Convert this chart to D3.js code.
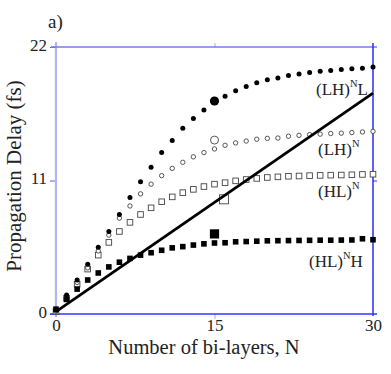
<!DOCTYPE html>
<html>
<head>
<meta charset="utf-8">
<script src="https://cdn.jsdelivr.net/npm/d3@7"></script>
<style>
    body { margin: 0; background: white; }
    svg text { font-family: "Liberation Serif", "DejaVu Serif", "Times New Roman", serif !important; }
</style>
</head>
<body>
<svg width="391" height="374"></svg>
<script>
"use strict";
// number of bi-layers N, one point per N
const bilayers = [0, 1, 2, 3, 4, 5, 6, 7, 8, 9, 10, 11, 12, 13, 14, 15, 16, 17, 18, 19, 20, 21, 22, 23, 24, 25, 26, 27, 28, 29, 30];
// propagation delay in fs
const delayLHL = [0.3, 1.57, 2.8, 4.1, 5.5, 6.8, 8.2, 9.6, 10.9, 12.1, 13.3, 14.3, 15.3, 16.1, 16.8, 17.4, 17.95, 18.4, 18.75, 19.05, 19.3, 19.45, 19.65, 19.77, 19.9, 20.0, 20.07, 20.15, 20.2, 20.25, 20.35];
const delayLH = [0.2, 1.4, 2.6, 3.8, 5.2, 6.5, 7.9, 8.9, 9.9, 10.7, 11.4, 12.0, 12.5, 12.95, 13.3, 13.6, 13.9, 14.1, 14.25, 14.4, 14.47, 14.5, 14.65, 14.72, 14.78, 14.82, 14.87, 14.9, 14.95, 15.0, 15.05];
const delayHL = [0.2, 1.3, 2.45, 3.7, 4.85, 5.9, 6.8, 7.55, 8.2, 8.75, 9.25, 9.65, 10.0, 10.27, 10.5, 10.7, 10.82, 10.97, 11.08, 11.17, 11.25, 11.3, 11.35, 11.37, 11.4, 11.42, 11.44, 11.45, 11.47, 11.5, 11.52];
const delayHLH = [0.4, 1.2, 2.05, 2.8, 3.38, 3.88, 4.27, 4.58, 4.85, 5.05, 5.25, 5.45, 5.55, 5.68, 5.78, 5.85, 5.87, 5.95, 5.97, 6.0, 6.03, 6.04, 6.05, 6.06, 6.07, 6.08, 6.08, 6.09, 6.1, 6.2, 6.12];
// the big single markers (LH)^N L, (LH)^N, (HL)^N, (HL)^N H
const bigN = [15, 15, 15.9, 15];
const bigDelay = [17.55, 14.33, 9.45, 6.6];
// straight reference line
const lineN = [0, 30];
const lineDelay = [0.2, 18.2];

const xTicks = [0, 15, 30];
const yTicks = [0, 11, 22];

const SERIF = "Liberation Serif";

window.addEventListener("load", drawChart);

function drawChart() {
    const svg = d3.select("svg").attr("font-family", SERIF);
    const left = 56, right = 373, top = 47, bottom = 314;

    const x = d3.scaleLinear().domain([0, 30]).range([left, right]);
    const y = d3.scaleLinear().domain([0, 22]).range([bottom, top]);

    // axes: each side has its own blue in the original
    const yAxis = svg.append("g")
        .attr("transform", `translate(${left},0)`)
        .call(d3.axisLeft(y).tickValues(yTicks).tickSize(6).tickSizeOuter(0).tickPadding(3))
        .attr("font-family", SERIF);
    yAxis.select(".domain").remove();
    yAxis.selectAll("line").attr("stroke", "#5a5af0");
    yAxis.selectAll("text").attr("font-size", 17).attr("fill", "#222").attr("dy", "0.2em")
        .attr("font-family", SERIF);

    const xAxis = svg.append("g")
        .attr("transform", `translate(0,${bottom})`)
        .call(d3.axisBottom(x).tickValues(xTicks).tickSize(5).tickSizeOuter(0).tickPadding(0))
        .attr("font-family", SERIF);
    xAxis.select(".domain").remove();
    xAxis.selectAll("line").attr("stroke", "#a8a8f2").attr("opacity", (d, i) => i === 1 ? 1 : 0);
    xAxis.selectAll("text").attr("font-size", 17).attr("fill", "#222")
        .attr("font-family", SERIF);

    const topAxis = svg.append("g")
        .attr("transform", `translate(0,${top})`)
        .call(d3.axisTop(x).tickValues([15]).tickSize(4).tickSizeOuter(0).tickFormat(""));
    topAxis.select(".domain").remove();
    topAxis.selectAll("line").attr("stroke", "#a8a8f2");

    const rightAxis = svg.append("g")
        .attr("transform", `translate(${right},0)`)
        .call(d3.axisRight(y).tickValues([11]).tickSize(4).tickSizeOuter(0).tickFormat(""));
    rightAxis.select(".domain").remove();
    rightAxis.selectAll("line").attr("stroke", "#2a2aff");

    // frame lines
    svg.append("line").attr("x1", left).attr("x2", left).attr("y1", top - 5).attr("y2", bottom + 3)
        .attr("stroke", "#b4b4f4").attr("stroke-width", 2.2);
    svg.append("line").attr("x1", left - 5).attr("x2", right + 4).attr("y1", top).attr("y2", top)
        .attr("stroke", "#7878e8").attr("stroke-width", 1.4);
    svg.append("line").attr("x1", right).attr("x2", right).attr("y1", top - 4).attr("y2", bottom + 2)
        .attr("stroke", "#2a2aff").attr("stroke-width", 1.5);
    svg.append("line").attr("x1", left - 6).attr("x2", right + 4).attr("y1", bottom).attr("y2", bottom)
        .attr("stroke", "#3434ff").attr("stroke-width", 1.5);

    const plot = svg.append("g");

    // open squares (HL)^N
    plot.selectAll("rect.hl")
        .data(delayHL)
        .join("rect")
            .attr("class", "hl")
            .attr("x", (d, i) => x(bilayers[i]) - 2.8)
            .attr("y", d => y(d) - 2.8)
            .attr("width", 5.6)
            .attr("height", 5.6)
            .attr("fill", "white")
            .attr("stroke", "#444")
            .attr("stroke-width", 0.9);

    // open circles (LH)^N
    plot.selectAll("circle.lh")
        .data(delayLH)
        .join("circle")
            .attr("class", "lh")
            .attr("cx", (d, i) => x(bilayers[i]))
            .attr("cy", d => y(d))
            .attr("r", 2.2)
            .attr("fill", "white")
            .attr("stroke", "#444")
            .attr("stroke-width", 0.9);

    // filled circles (LH)^N L
    plot.selectAll("circle.lhl")
        .data(delayLHL)
        .join("circle")
            .attr("class", "lhl")
            .attr("cx", (d, i) => x(bilayers[i]))
            .attr("cy", d => y(d))
            .attr("r", 2.5)
            .attr("fill", "#000");

    // filled squares (HL)^N H
    plot.selectAll("rect.hlh")
        .data(delayHLH)
        .join("rect")
            .attr("class", "hlh")
            .attr("x", (d, i) => x(bilayers[i]) - 2.8)
            .attr("y", d => y(d) - 2.8)
            .attr("width", 5.6)
            .attr("height", 5.6)
            .attr("fill", "#000");

    // big markers
    plot.append("circle").attr("cx", x(bigN[0])).attr("cy", y(bigDelay[0])).attr("r", 4.6).attr("fill", "#000");
    plot.append("circle").attr("cx", x(bigN[1])).attr("cy", y(bigDelay[1])).attr("r", 4)
        .attr("fill", "white").attr("stroke", "#444").attr("stroke-width", 0.9);
    plot.append("rect").attr("x", x(bigN[2]) - 4.5).attr("y", y(bigDelay[2]) - 4.5).attr("width", 9).attr("height", 9)
        .attr("fill", "none").attr("stroke", "#444").attr("stroke-width", 0.9);
    plot.append("rect").attr("x", x(bigN[3]) - 4.6).attr("y", y(bigDelay[3]) - 4.6).attr("width", 9.2).attr("height", 9.2)
        .attr("fill", "#000");

    // the straight line
    const line = d3.line().x(d => x(d[0])).y(d => y(d[1]));
    plot.append("path")
        .datum(lineN.map((n, i) => [n, lineDelay[i]]))
        .attr("d", line)
        .attr("fill", "none")
        .attr("stroke", "#000")
        .attr("stroke-width", 2.8);

    // series labels with superscript N
    function seriesLabel(px, py, base, tail) {
        const t = svg.append("text").attr("x", px).attr("y", py)
            .attr("font-family", SERIF).attr("font-size", 17).attr("fill", "#222");
        t.append("tspan").text(base);
        t.append("tspan").attr("font-size", 10.5).attr("dy", -8).text("N");
        if (tail) t.append("tspan").attr("dy", 8).text(tail);
    }
    seriesLabel(316, 95, "(LH)", "L");
    seriesLabel(318, 155, "(LH)", "");
    seriesLabel(318, 197, "(HL)", "");
    seriesLabel(309, 267, "(HL)", "H");

    // titles
    svg.append("text")
        .attr("x", 48).attr("y", 28)
        .attr("font-family", SERIF).attr("font-size", 19).attr("fill", "#222")
        .text("a)");
    svg.append("text")
        .attr("x", 204).attr("y", 354)
        .attr("text-anchor", "middle")
        .attr("font-family", SERIF).attr("font-size", 20.5).attr("fill", "#222")
        .text("Number of bi-layers, N");
    svg.append("text")
        .attr("transform", "translate(21 176) rotate(-90)")
        .attr("text-anchor", "middle")
        .attr("font-family", SERIF).attr("font-size", 21).attr("fill", "#222")
        .text("Propagation Delay (fs)");
}
</script>
</body>
</html>
